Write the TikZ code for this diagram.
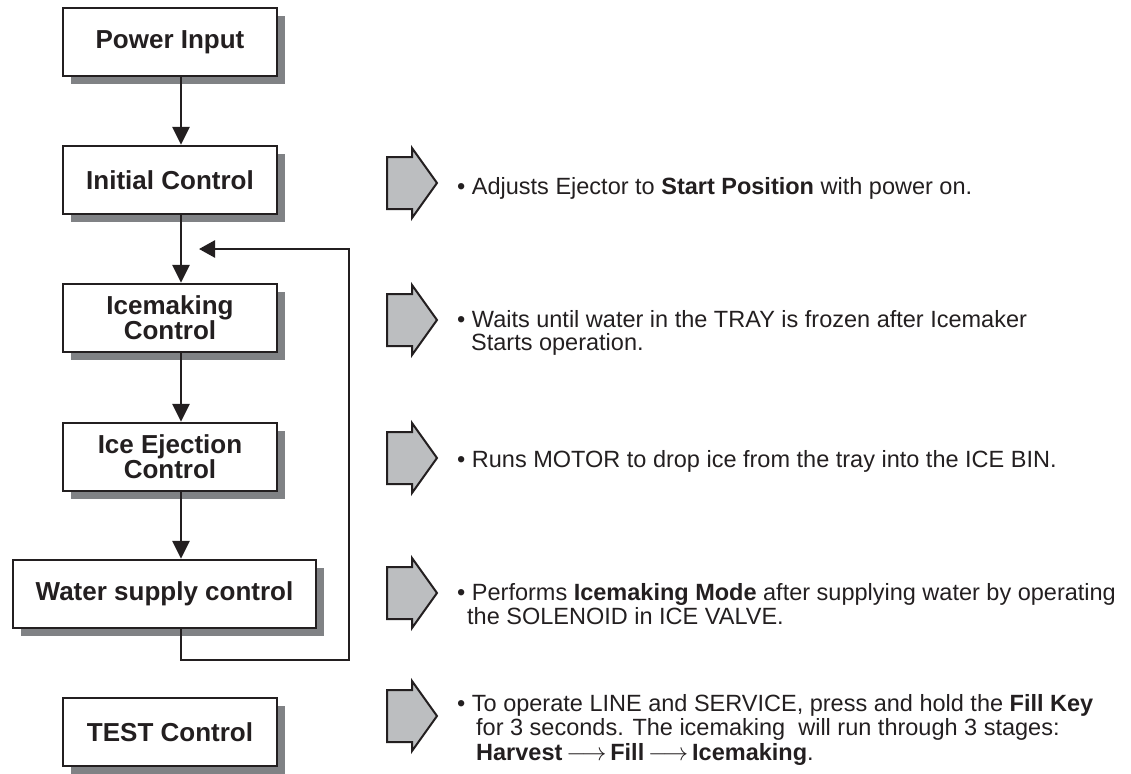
\documentclass[tikz,border=0pt]{standalone}
\usepackage{fontspec}
\setmainfont{Liberation Sans}
\usetikzlibrary{arrows.meta,shadows}
\definecolor{shadowgray}{HTML}{808285}
\definecolor{arrowgray}{HTML}{BCBEC0}
\definecolor{ink}{HTML}{231F20}
\newcommand\blockarrow[1]{%
  \draw[draw=ink, fill=arrowgray, line width=2pt, line join=miter]
    (387,{#1-26}) -- (412,{#1-26}) -- (412,{#1-35}) -- (437,#1)
    -- (412,{#1+35}) -- (412,{#1+26}) -- (387,{#1+26}) -- cycle;}
\newcommand\stagearrow{\,\smash{$\longrightarrow$}\,}
\begin{document}
\begin{tikzpicture}[x=1pt,y=-1pt,
  box/.style={draw=ink, line width=2.3pt, fill=white, minimum width=214pt,
    minimum height=68pt, inner sep=0pt, align=center, text=ink,
    font=\fontsize{26}{25}\selectfont\bfseries,
    drop shadow={shadow xshift=8pt, shadow yshift=-8pt, fill=shadowgray, opacity=1}},
  flow/.style={draw=ink, line width=2.8pt, -{Triangle[length=18pt,width=17pt]}},
  loopline/.style={draw=ink, line width=2.6pt, line join=miter, -{Triangle[length=16pt,width=17pt]}},
  body/.style={anchor=base west, inner sep=0pt, text=ink,
    font=\fontsize{23.5}{22}\selectfont},
]
\useasboundingbox (0,0) rectangle (1131,773);

% flow boxes
\node[box] (power) at (170,42) {Power Input};
\node[box] (init) at (170,180) {Initial Control};
\node[box] (icem) at (170,318) {Icemaking\\Control};
\node[box] (eject) at (170,457) {Ice Ejection\\Control};
\node[box, minimum width=303pt] (water) at (164.5,594) {Water supply control};
\node[box] (test) at (170,732) {TEST Control};

% connectors
\draw[flow] ([xshift=11pt]power.south) -- ([xshift=11pt]init.north);
\draw[flow] ([xshift=11pt]init.south) -- ([xshift=11pt]icem.north);
\draw[flow] ([xshift=11pt]icem.south) -- ([xshift=11pt]eject.north);
\draw[flow] ([xshift=11pt]eject.south) -- ([xshift=16.5pt]water.north);
\coordinate (loopend) at (199,249);
\draw[loopline] ([xshift=16.5pt]water.south) -- ++(0,31) -| (349,249) -- (loopend);

% block arrows
\blockarrow{183}
\blockarrow{320}
\blockarrow{458}
\blockarrow{593}
\blockarrow{716}

% descriptions
\node[body] (d1) at (457,194) {\textbullet\ Adjusts Ejector to \textbf{Start Position} with power on.};
\node[body] (d2a) at (457,327) {\textbullet\ Waits until water in the TRAY is frozen after Icemaker};
\node[body] (d2b) at (471,350) {Starts operation.};
\node[body] (d3) at (457,467) {\textbullet\ Runs MOTOR to drop ice from the tray into the ICE BIN.};
\node[body] (d4a) at (457,600) {\textbullet\ Performs \textbf{Icemaking Mode} after supplying water by operating};
\node[body] (d4b) at (467,624) {the SOLENOID in ICE VALVE.};
\node[body] (d5a) at (457,711) {\textbullet\ To operate LINE and SERVICE, press and hold the \textbf{Fill Key}};
\node[body] (d5b) at (476,735) {for 3 seconds. The icemaking\ \ will run through 3 stages:};
\node[body] (d5c) at (476,760) {\textbf{Harvest}\stagearrow\textbf{Fill}\stagearrow\textbf{Icemaking}.};
\end{tikzpicture}
\end{document}
